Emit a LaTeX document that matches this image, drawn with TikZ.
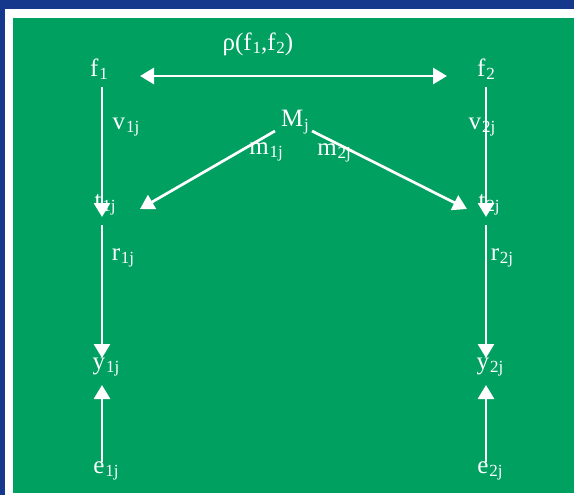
\documentclass[tikz,border=0pt]{standalone}
\usepackage{fontspec}
\setmainfont{Liberation Serif}
\usetikzlibrary{arrows.meta}
\definecolor{slideblue}{RGB}{22,56,140}
\definecolor{slidegreen}{RGB}{0,160,96}
\newcommand{\lab}[2]{#1\kern0.8pt\raisebox{-0.3ex}{\fontsize{17}{17}\selectfont #2}}
\tikzset{
  lbl/.style={text=white,inner sep=0pt,font=\fontsize{25}{28}\selectfont},
  arr/.style={white,line width=2.7pt,>={Triangle[length=14pt,width=16pt]},->}
}
\begin{document}
\begin{tikzpicture}[x=1pt,y=-1pt]
  \useasboundingbox (0,0) rectangle (574,495);
  \fill[slideblue] (0,0) rectangle (574,495);
  \fill[white] (5,9) rectangle (574,495);
  \fill[slidegreen] (13,18) rectangle (574,493);

  \node[lbl] (f1) at (99,69) {\lab{f}{1}};
  \node[lbl] (f2) at (486,69) {\lab{f}{2}};
  \node[lbl] (rho) at (258,44) {ρ(\lab{f}{1},\lab{f}{2})};
  \node[lbl] (M) at (295,122) {\lab{M}{j}};
  \node[lbl] (m1) at (266,152) {\lab{m}{1j}};
  \node[lbl] (m2) at (334,153) {\lab{m}{2j}};
  \node[lbl] (v1) at (126,127) {\lab{v}{1j}};
  \node[lbl] (v2) at (482,127) {\lab{v}{2j}};
  \node[lbl] (t1) at (105,205) {\lab{t}{1j}};
  \node[lbl] (t2) at (489,205) {\lab{t}{2j}};
  \node[lbl] (r1) at (123,258) {\lab{r}{1j}};
  \node[lbl] (r2) at (502,258) {\lab{r}{2j}};
  \node[lbl] (y1) at (106,367) {\lab{y}{1j}};
  \node[lbl] (y2) at (490,367) {\lab{y}{2j}};
  \node[lbl] (e1) at (106,471) {\lab{e}{1j}};
  \node[lbl] (e2) at (490,471) {\lab{e}{2j}};

  % line ends
  \coordinate (f1s) at (102,87);
  \coordinate (f2s) at (486,87);
  \coordinate (t1n) at (102,217);
  \coordinate (t2n) at (486,217);
  \coordinate (t1s) at (102,225);
  \coordinate (t2s) at (486,225);
  \coordinate (y1n) at (102,358);
  \coordinate (y2n) at (486,358);
  \coordinate (y1s) at (102,385);
  \coordinate (y2s) at (486,385);
  \coordinate (e1n) at (102,462);
  \coordinate (e2n) at (486,462);
  \coordinate (Mw) at (275,131);
  \coordinate (Me) at (312,131);
  \coordinate (t1e) at (140,209);
  \coordinate (t2w) at (467,209);
  \coordinate (rhoW) at (140,76);
  \coordinate (rhoE) at (447,76);

  \draw[arr,<->] (rhoW) -- (rhoE);
  \draw[arr] (f1s) -- (t1n);
  \draw[arr] (f2s) -- (t2n);
  \draw[arr] (Mw) -- (t1e);
  \draw[arr] (Me) -- (t2w);
  \draw[arr] (t1s) -- (y1n);
  \draw[arr] (t2s) -- (y2n);
  \draw[arr] (e1n) -- (y1s);
  \draw[arr] (e2n) -- (y2s);
\end{tikzpicture}
\end{document}
